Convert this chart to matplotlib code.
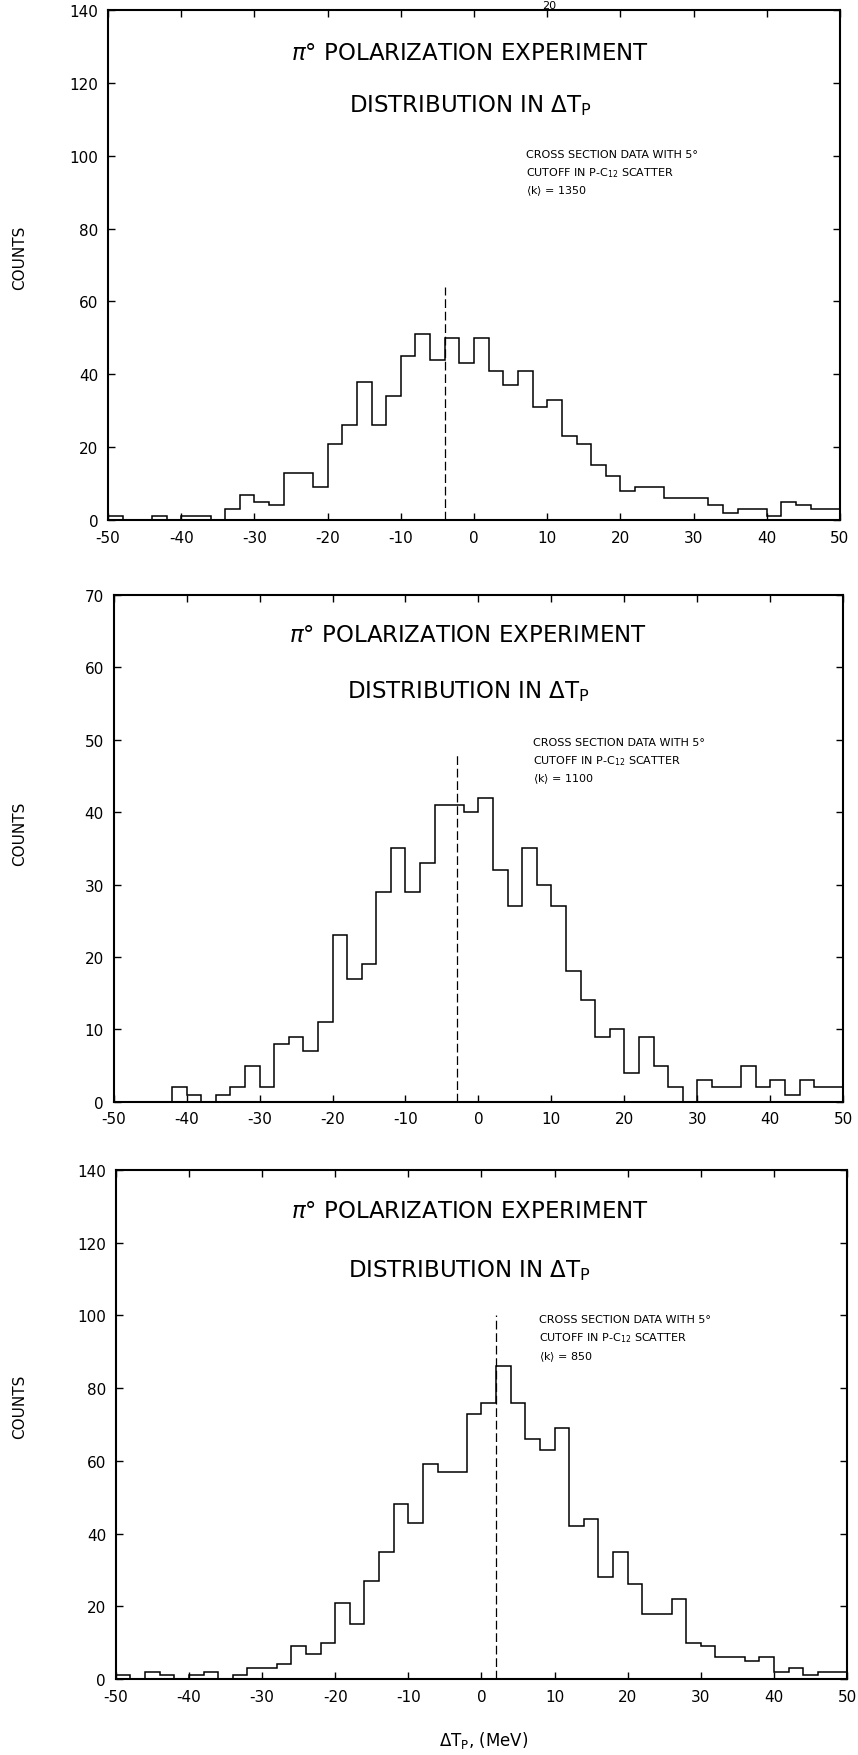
import numpy as np
import matplotlib.pyplot as plt

plt.rcParams['font.family'] = ['DejaVu Sans']
plt.rcParams['axes.unicode_minus'] = False

# 2 MeV bins from -50 to 50
bin_edges = np.arange(-50, 52, 2)

counts_1350 = [1, 0, 0, 1, 0, 1, 1, 0, 3, 7, 5, 4, 13, 13, 9, 21, 26, 38, 26, 34,
               45, 51, 44, 50, 43, 50, 41, 37, 41, 31, 33, 23, 21, 15, 12, 8, 9, 9, 6, 6,
               6, 4, 2, 3, 3, 1, 5, 4, 3, 3]
counts_1100 = [0, 0, 0, 0, 2, 1, 0, 1, 2, 5, 2, 8, 9, 7, 11, 23, 17, 19, 29, 35,
               29, 33, 41, 41, 40, 42, 32, 27, 35, 30, 27, 18, 14, 9, 10, 4, 9, 5, 2, 0,
               3, 2, 2, 5, 2, 3, 1, 3, 2, 2]
counts_850 = [1, 0, 2, 1, 0, 1, 2, 0, 1, 3, 3, 4, 9, 7, 10, 21, 15, 27, 35, 48,
              43, 59, 57, 57, 73, 76, 86, 76, 66, 63, 69, 42, 44, 28, 35, 26, 18, 18, 22, 10,
              9, 6, 6, 5, 6, 2, 3, 1, 2, 2]

k_values = [1350, 1100, 850]
y_max = [140, 70, 140]
y_step = [20, 10, 20]
cutoff_x = [-4, -3, 2]
cutoff_top = [64, 48, 100]

fig = plt.figure(figsize=(8.58, 17.56), dpi=100)

# axes rectangles and text placement (axes fractions) per panel
rects = [[0.126, 0.7033, 0.853, 0.2904],
         [0.1324, 0.3720, 0.8505, 0.2886],
         [0.1349, 0.0433, 0.8524, 0.2899]]
title_pos = [(0.495, 0.916, 0.814), (0.486, 0.922, 0.811), (0.484, 0.921, 0.804)]
note_pos = [(0.571, 0.718), (0.575, 0.710), (0.579, 0.707)]
counts_y = [0.853, 0.525, 0.199]

for i, counts in enumerate([counts_1350, counts_1100, counts_850]):
    ax = fig.add_axes(rects[i])
    ax.stairs(counts, bin_edges, baseline=0, color='black', lw=1.1)
    ax.plot([cutoff_x[i], cutoff_x[i]], [0, cutoff_top[i]], color='black',
            lw=0.9, dashes=(7, 3))
    ax.set_xlim(-50, 50)
    ax.set_ylim(0, y_max[i])
    ax.set_xticks(np.arange(-50, 51, 10))
    ax.set_yticks(np.arange(0, y_max[i] + 1, y_step[i]))
    ax.tick_params(direction='in', top=True, right=True, length=5, width=1,
                   labelsize=11, pad=7)
    for sp in ax.spines.values():
        sp.set_linewidth(1.5)

    tx, ty1, ty2 = title_pos[i]
    ax.text(tx, ty1, r'$\pi$° POLARIZATION EXPERIMENT', transform=ax.transAxes,
            ha='center', va='center', fontsize=16.5)
    ax.text(tx, ty2, r'DISTRIBUTION IN $\mathregular{\Delta T_P}$', transform=ax.transAxes,
            ha='center', va='center', fontsize=16.5)

    nx, ny = note_pos[i]
    ax.text(nx, ny, 'CROSS SECTION DATA WITH 5°', transform=ax.transAxes,
            ha='left', va='center', fontsize=8)
    ax.text(nx, ny - 0.036, r'CUTOFF IN P-C$_{12}$ SCATTER', transform=ax.transAxes,
            ha='left', va='center', fontsize=8)
    ax.text(nx, ny - 0.072, r'$\langle$k$\rangle$ = %d' % k_values[i],
            transform=ax.transAxes, ha='left', va='center', fontsize=8)

    fig.text(0.023, counts_y[i], 'COUNTS', rotation=90, ha='center', va='center',
             fontsize=11)

fig.text(0.564, 0.009, r'$\mathregular{\Delta T_P}$, (MeV)', ha='center', va='center',
         fontsize=12)
# page number at the top of the scan
fig.text(0.64, 0.9995, '20', ha='center', va='top', fontsize=8)

fig.savefig('out.png', dpi=100)
